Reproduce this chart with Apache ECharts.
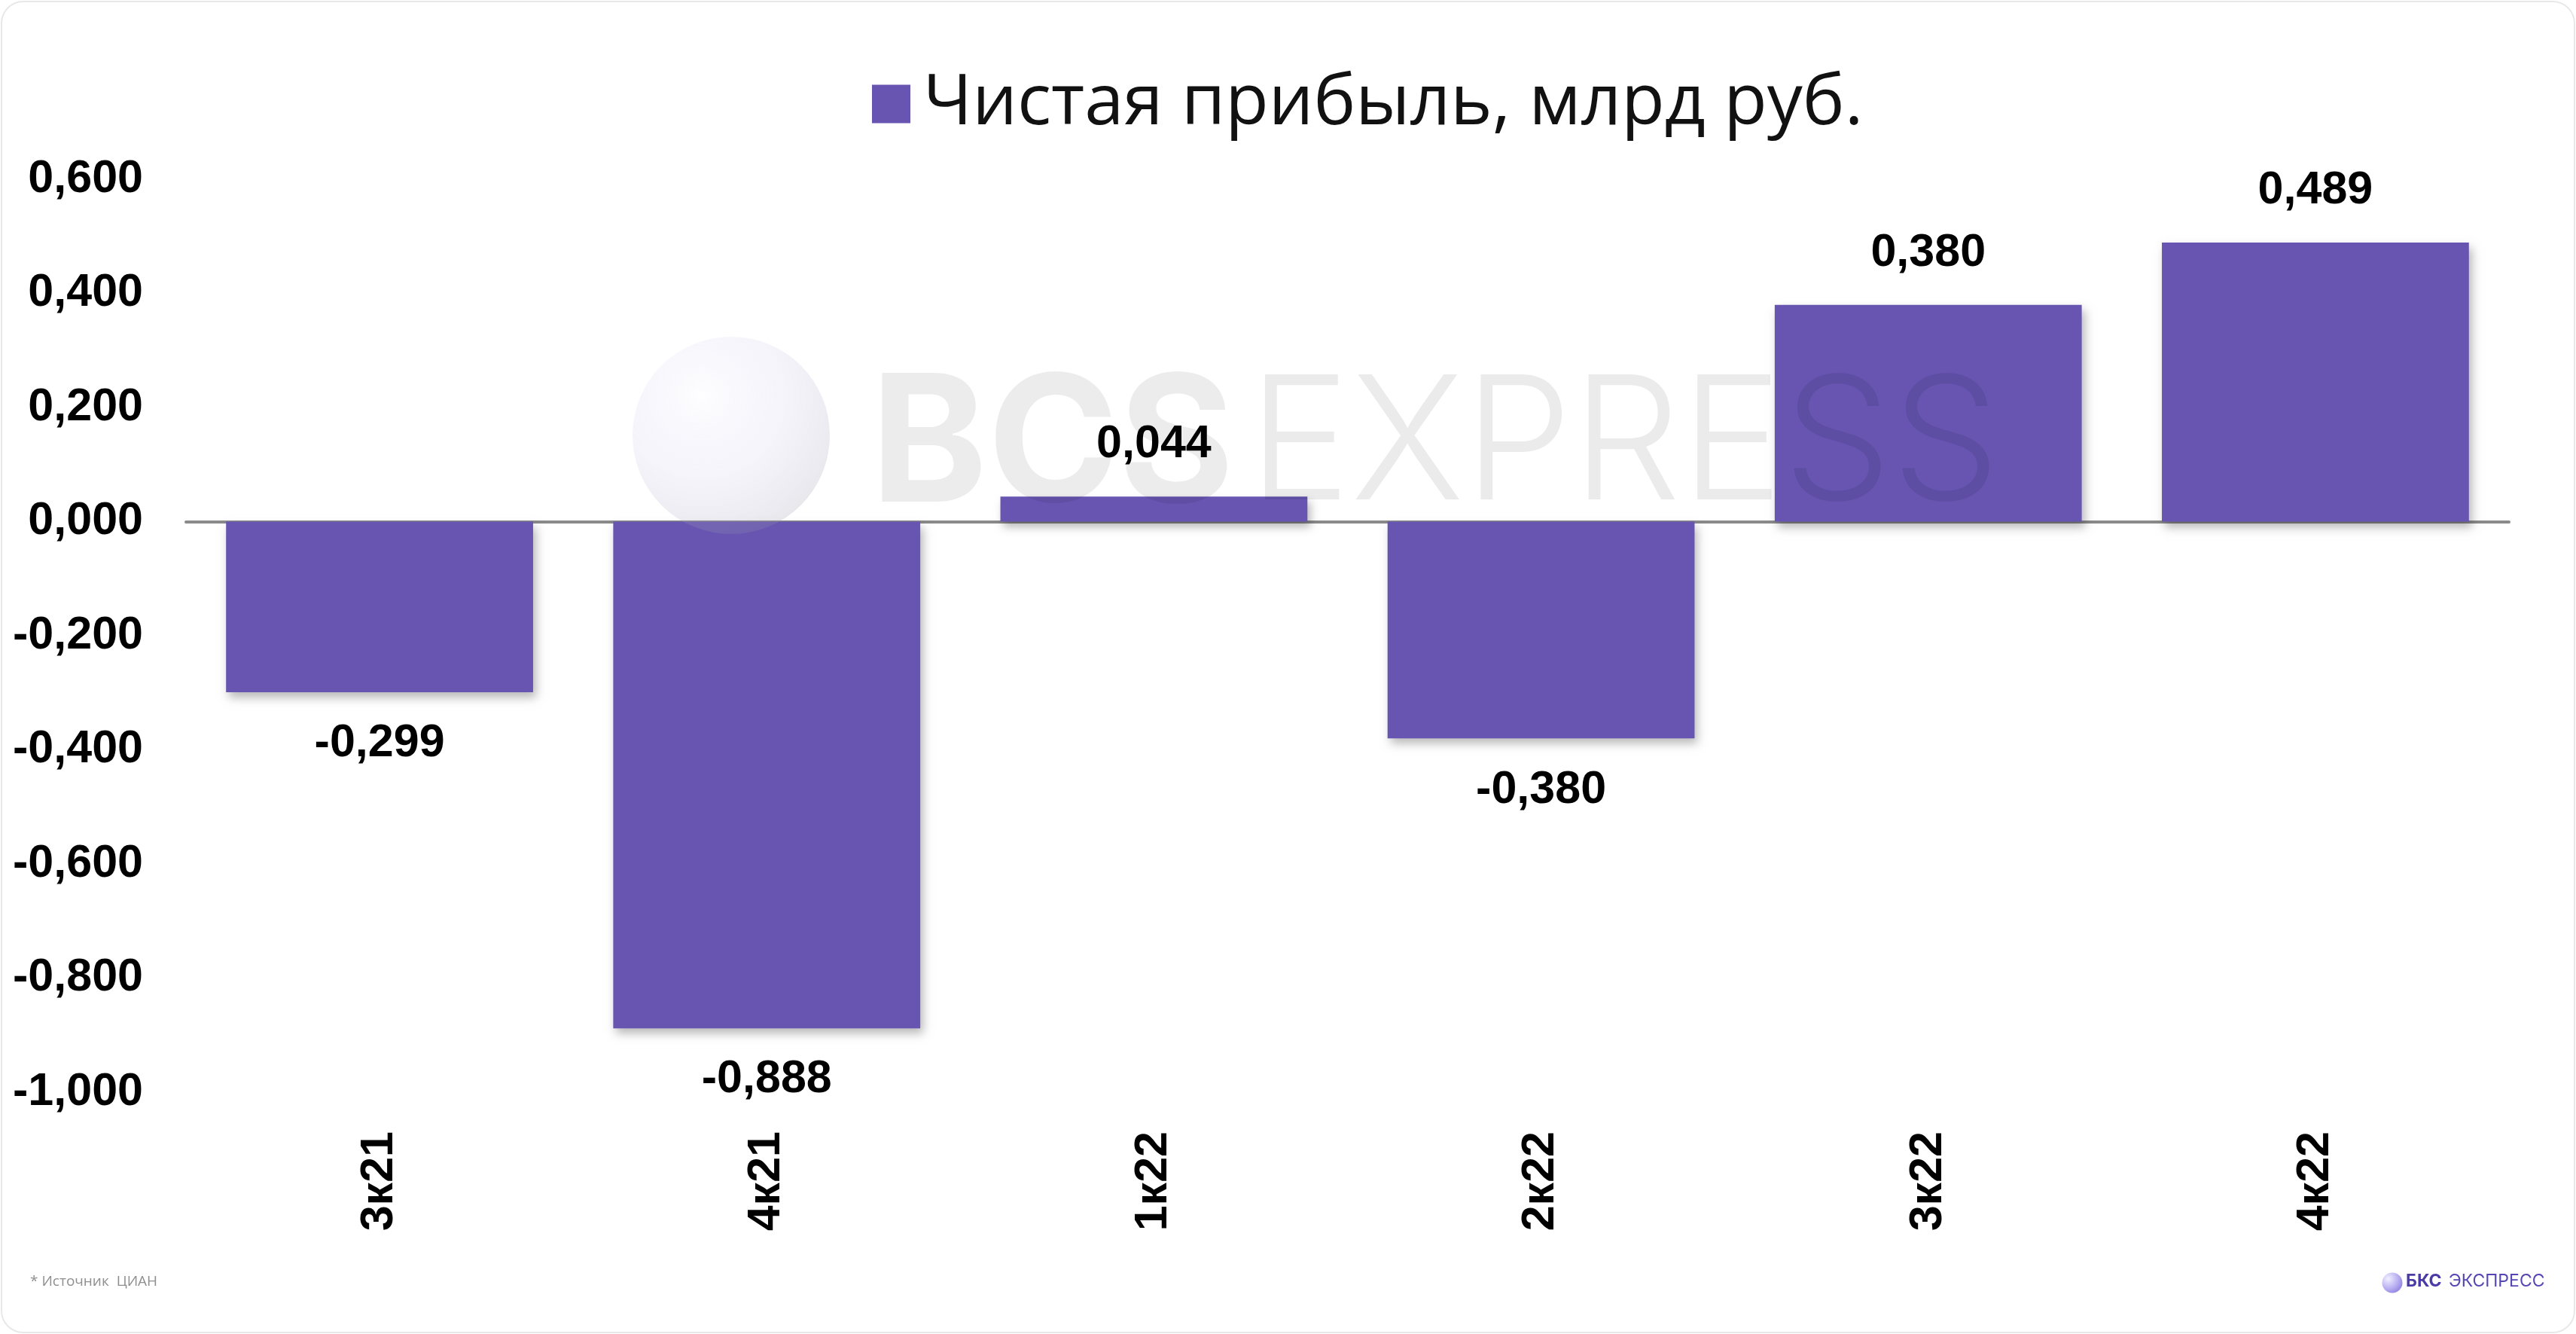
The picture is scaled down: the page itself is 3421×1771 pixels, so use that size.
<!DOCTYPE html>
<html>
<head>
<meta charset="utf-8">
<script src="https://cdn.jsdelivr.net/npm/echarts@6/dist/echarts.min.js"></script>
<style>
  html, body { margin: 0; padding: 0; background: #ffffff; }
  #card { position: absolute; left: 1px; top: 1px; width: 3415px; height: 1765px; border: 2px solid #e8e8e8; border-radius: 30px; background: #fff; }
  #chart { position: absolute; left: 0; top: 0; width: 3421px; height: 1771px; }
</style>
</head>
<body>
<div id="card"></div>
<div id="chart"></div>
<script>
const categories = ['3к21', '4к21', '1к22', '2к22', '3к22', '4к22'];
const netProfit = [-0.299, -0.888, 0.044, -0.380, 0.380, 0.489];
const seriesName = 'Чистая прибыль, млрд руб.';
const yMin = -1.0, yMax = 0.6, yStep = 0.2;
const sourceText = '* Источник  ЦИАН';

const fmt = v => (Math.abs(v) < 1e-9 ? 0 : v).toFixed(3).replace('.', ',');
const labelFont = { fontFamily: 'Liberation Sans, Arial, sans-serif', fontWeight: 'bold', fontSize: 61, color: '#000' };

const chart = echarts.init(document.getElementById('chart'), null, { renderer: 'canvas' });
chart.setOption({
  animation: false,
  backgroundColor: 'transparent',
  grid: { left: 247, right: 89, top: 238, bottom: 321, containLabel: false },
  legend: {
    data: [seriesName],
    left: 1153, top: 86,
    icon: 'rect', itemWidth: 51, itemHeight: 51,
    selectedMode: false,
    textStyle: { fontFamily: 'Open Sans, sans-serif', fontSize: 94, color: '#111', padding: [0, 0, 0, 12] }
  },
  graphic: [
    {
      type: 'circle', z: 50, silent: true,
      shape: { cx: 971, cy: 578, r: 131 },
      style: {
        fill: new echarts.graphic.RadialGradient(0.35, 0.3, 0.75, [
          { offset: 0, color: 'rgba(250,250,255,0.25)' },
          { offset: 0.55, color: 'rgba(200,195,235,0.18)' },
          { offset: 1, color: 'rgba(150,148,170,0.22)' }
        ])
      }
    },
    {
      type: 'text', z: 50, silent: true, left: 1156, top: 478,
      style: { text: 'BCS', fontFamily: 'Inter, sans-serif', fontWeight: 'bold', fontSize: 235, fill: 'rgba(0,0,0,0.075)' }
    },
    {
      type: 'text', z: 50, silent: true, left: 1658, top: 480,
      style: { text: 'EXPRESS', fontFamily: 'Inter, sans-serif', fontWeight: 300, fontSize: 228, fill: 'rgba(0,0,0,0.08)' }
    },
    {
      type: 'text', silent: true, left: 40, top: 1692,
      style: { text: sourceText, fontFamily: 'Open Sans, sans-serif', fontSize: 19, fill: '#8f8f8f' }
    },
    {
      type: 'circle', silent: true,
      shape: { cx: 3177, cy: 1703, r: 13.5 },
      style: {
        fill: new echarts.graphic.RadialGradient(0.3, 0.3, 0.8, [
          { offset: 0, color: '#f2f0ff' },
          { offset: 0.6, color: '#b9b0f2' },
          { offset: 1, color: '#8f82e0' }
        ])
      }
    },
    {
      type: 'text', silent: true, left: 3195, top: 1690,
      style: { text: 'БКС', fontFamily: 'Inter, sans-serif', fontWeight: 'bold', fontSize: 23, fill: '#4a3ba6' }
    },
    {
      type: 'text', silent: true, left: 3252, top: 1690,
      style: { text: 'ЭКСПРЕСС', fontFamily: 'Inter, sans-serif', fontWeight: 'normal', fontSize: 23, fill: '#5646b3' }
    }
  ],
  xAxis: {
    type: 'category',
    data: categories,
    axisLine: { onZero: true, lineStyle: { color: '#8a8a8a', width: 4 } },
    axisTick: { show: false },
    axisLabel: Object.assign({ rotate: 90, margin: 52, interval: 0 }, labelFont),
    splitLine: { show: false }
  },
  yAxis: {
    type: 'value',
    min: yMin, max: yMax, interval: yStep,
    axisLine: { show: false },
    axisTick: { show: false },
    splitLine: { show: false },
    axisLabel: Object.assign({ margin: 57, formatter: v => fmt(v) }, labelFont)
  },
  series: [{
    name: seriesName,
    type: 'bar',
    barWidth: '79.3%',
    data: netProfit.map(v => ({
      value: v,
      label: { position: v < 0 ? 'bottom' : 'top' }
    })),
    itemStyle: {
      color: '#6755B1',
      shadowBlur: 12, shadowOffsetX: 4, shadowOffsetY: 7, shadowColor: 'rgba(0,0,0,0.28)'
    },
    label: Object.assign({ show: true, distance: 38, formatter: p => fmt(p.value) }, labelFont)
  }]
});
</script>
</body>
</html>
